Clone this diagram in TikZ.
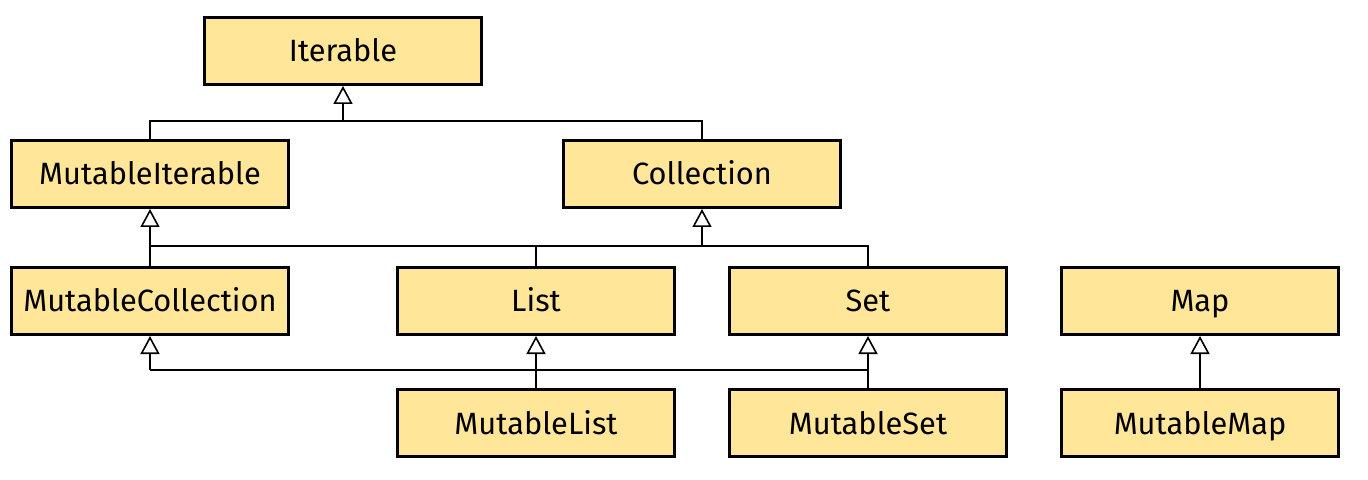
\documentclass[tikz,border=0pt]{standalone}
\usepackage{fontspec}
\setmainfont{Fira Sans}
\usetikzlibrary{arrows.meta}
\definecolor{boxfill}{HTML}{FFE699}
\begin{document}
\begin{tikzpicture}[x=0.5pt,y=-0.5pt,
  cls/.style={draw=black, fill=boxfill, line width=1.5pt, minimum width=138.5pt, minimum height=33.5pt, inner sep=0pt, text height=11pt, text depth=0pt, font=\fontsize{15.4}{18}\selectfont},
  gen/.style={line width=0.8pt},
  tip/.style={-{Triangle[open,width=9.5pt,length=9pt]}}]
\path[use as bounding box, fill=white] (0,0) rectangle (1368,480);
\node[cls] (Iterable) at (343,51) {Iterable};
\node[cls] (MutableIterable) at (150,174) {MutableIterable};
\node[cls] (Collection) at (702,174) {Collection};
\node[cls] (MutableCollection) at (150,301) {MutableCollection};
\node[cls] (List) at (536,301) {List};
\node[cls] (Set) at (868,301) {Set};
\node[cls] (Map) at (1200,301) {Map};
\node[cls] (MutableList) at (536,423) {MutableList};
\node[cls] (MutableSet) at (868,423) {MutableSet};
\node[cls] (MutableMap) at (1200,423) {MutableMap};
\coordinate (b1) at (343,121);
\coordinate (b2) at (0,246);
\coordinate (b3) at (0,370);
% level 1
\draw[gen] (MutableIterable.north) |- (Collection.north |- b1) -- (Collection.north);
\draw[gen,tip] (b1) -- (Iterable.south);
% level 2
\draw[gen] (MutableCollection.north) -- (MutableCollection.north |- b2) -| (Set.north);
\draw[gen] (List.north) -- (List.north |- b2);
\draw[gen,tip] (MutableCollection.north |- b2) -- (MutableIterable.south);
\draw[gen,tip] (Collection.south |- b2) -- (Collection.south);
% level 3
\draw[gen] (MutableCollection.south |- b3) -- (MutableSet.north |- b3);
\draw[gen,tip] (MutableCollection.south |- b3) -- (MutableCollection.south);
\draw[gen,tip] (MutableList.north) -- (List.south);
\draw[gen,tip] (MutableSet.north) -- (Set.south);
\draw[gen,tip] (MutableMap.north) -- (Map.south);
\end{tikzpicture}
\end{document}
